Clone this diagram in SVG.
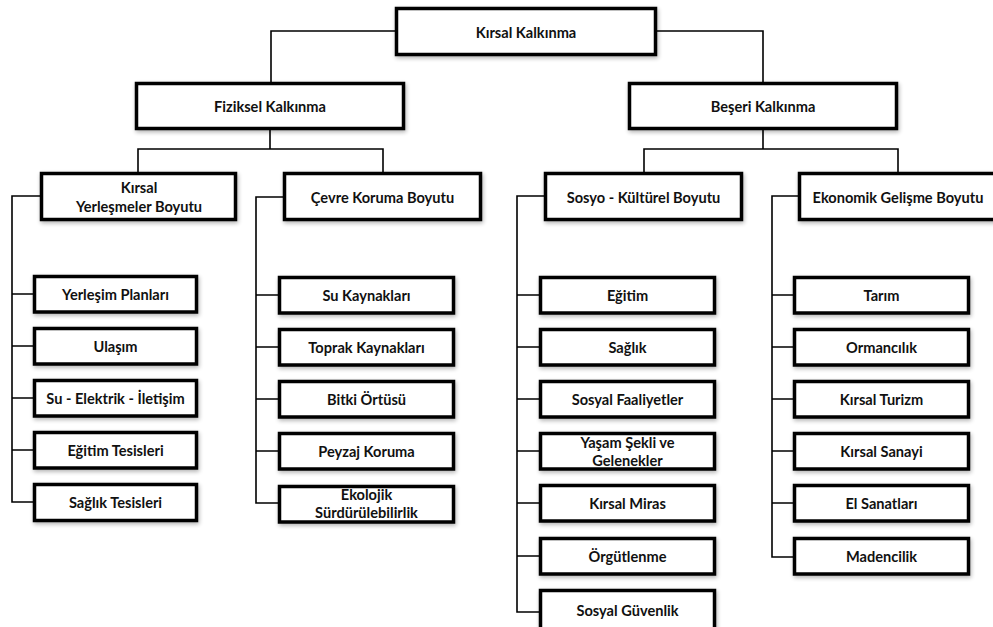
<svg xmlns="http://www.w3.org/2000/svg" width="993" height="627" viewBox="0 0 993 627">
  <style>
    .box { fill: #ffffff; stroke: #000000; stroke-width: 3.5; filter: url(#shade); }
    .lbl { font-family: Lato, "Open Sans", "Liberation Sans", sans-serif; font-weight: 700; font-size: 14.6px; fill: #111111; text-anchor: middle; dominant-baseline: central; }
    .wire { fill: none; stroke: #000000; stroke-width: 1.6; }
  </style>
  <defs>
    <filter id="shade" x="-10%" y="-30%" width="120%" height="160%">
      <feGaussianBlur in="SourceAlpha" stdDeviation="2.2"/>
      <feOffset dx="1" dy="1.5" result="b"/>
      <feComponentTransfer><feFuncA type="linear" slope="0.3"/></feComponentTransfer>
      <feMerge><feMergeNode/><feMergeNode in="SourceGraphic"/></feMerge>
    </filter>
  </defs>
  <rect width="993" height="627" fill="#ffffff"/>

  <!-- connectors -->
  <g id="connectors" class="wire">
    <path d="M395,31 H271 V82"/>
    <path d="M657,31 H763 V82"/>
    <path d="M270,130 V149 M138,172 V149 H383 V172"/>
    <path d="M763,130 V149 M644,172 V149 H898 V172"/>
    <path d="M40,196 H12 V502 H33 M12,294 H33 M12,346 H33 M12,398 H33 M12,450 H33"/>
    <path d="M283,197 H256 V503 H278 M256,295 H278 M256,347 H278 M256,399 H278 M256,451 H278"/>
    <path d="M544,196 H517 V612 H539 M517,295 H539 M517,347 H539 M517,399 H539 M517,451 H539 M517,503 H539 M517,556 H539"/>
    <path d="M798,196 H772 V557 H793 M772,295 H793 M772,347 H793 M772,399 H793 M772,451 H793 M772,503 H793"/>
  </g>

  <!-- level 0 -->
  <g id="kirsal-kalkinma"><rect class="box" x="396.5" y="8.5" width="259" height="46"/><text class="lbl" x="526" y="32">Kırsal Kalkınma</text></g>

  <!-- level 1 -->
  <g id="fiziksel"><rect class="box" x="136.5" y="83.5" width="267" height="45"/><text class="lbl" x="270" y="106">Fiziksel Kalkınma</text></g>
  <g id="beseri"><rect class="box" x="629.5" y="83.5" width="267" height="45"/><text class="lbl" x="763" y="106">Beşeri Kalkınma</text></g>

  <!-- level 2 -->
  <g id="yerlesmeler"><rect class="box" x="41.5" y="173.5" width="194" height="46"/><text class="lbl" x="139" y="187">Kırsal</text><text class="lbl" x="139" y="206">Yerleşmeler Boyutu</text></g>
  <g id="cevre"><rect class="box" x="284.5" y="173.5" width="196" height="46"/><text class="lbl" x="382.5" y="197">Çevre Koruma Boyutu</text></g>
  <g id="sosyo"><rect class="box" x="545.5" y="173.5" width="196" height="46"/><text class="lbl" x="643.5" y="197">Sosyo - Kültürel Boyutu</text></g>
  <g id="ekonomik"><rect class="box" x="799.5" y="173.5" width="197" height="46"/><text class="lbl" x="898" y="197">Ekonomik Gelişme Boyutu</text></g>

  <!-- yerlesmeler leaves -->
  <g id="yerlesim-planlari"><rect class="box" x="34.5" y="276.5" width="162" height="35.5"/><text class="lbl" x="115.5" y="294">Yerleşim Planları</text></g>
  <g id="ulasim"><rect class="box" x="34.5" y="328.5" width="162" height="35.5"/><text class="lbl" x="115.5" y="346">Ulaşım</text></g>
  <g id="su-elektrik"><rect class="box" x="34.5" y="380.5" width="162" height="35.5"/><text class="lbl" x="115.5" y="398">Su - Elektrik - İletişim</text></g>
  <g id="egitim-tesisleri"><rect class="box" x="34.5" y="432.5" width="162" height="35.5"/><text class="lbl" x="115.5" y="450">Eğitim Tesisleri</text></g>
  <g id="saglik-tesisleri"><rect class="box" x="34.5" y="484.5" width="162" height="36"/><text class="lbl" x="115.5" y="502">Sağlık Tesisleri</text></g>

  <!-- cevre leaves -->
  <g id="su-kaynaklari"><rect class="box" x="279.5" y="277.5" width="174" height="35.5"/><text class="lbl" x="366.5" y="295">Su Kaynakları</text></g>
  <g id="toprak-kaynaklari"><rect class="box" x="279.5" y="329.5" width="174" height="35.5"/><text class="lbl" x="366.5" y="347">Toprak Kaynakları</text></g>
  <g id="bitki-ortusu"><rect class="box" x="279.5" y="381.5" width="174" height="35.5"/><text class="lbl" x="366.5" y="399">Bitki Örtüsü</text></g>
  <g id="peyzaj"><rect class="box" x="279.5" y="433.5" width="174" height="35.5"/><text class="lbl" x="366.5" y="451">Peyzaj Koruma</text></g>
  <g id="ekolojik"><rect class="box" x="279.5" y="486.5" width="174" height="35.5"/><text class="lbl" x="366.5" y="494">Ekolojik</text><text class="lbl" x="366.5" y="512">Sürdürülebilirlik</text></g>

  <!-- sosyo leaves -->
  <g id="egitim"><rect class="box" x="540.5" y="277.5" width="174" height="35.5"/><text class="lbl" x="627.5" y="295">Eğitim</text></g>
  <g id="saglik"><rect class="box" x="540.5" y="329.5" width="174" height="35.5"/><text class="lbl" x="627.5" y="347">Sağlık</text></g>
  <g id="sosyal-faaliyetler"><rect class="box" x="540.5" y="381.5" width="174" height="35.5"/><text class="lbl" x="627.5" y="399">Sosyal Faaliyetler</text></g>
  <g id="yasam-sekli"><rect class="box" x="540.5" y="433.5" width="174" height="35.5"/><text class="lbl" x="627.5" y="442">Yaşam Şekli ve</text><text class="lbl" x="627.5" y="460">Gelenekler</text></g>
  <g id="kirsal-miras"><rect class="box" x="540.5" y="485.5" width="174" height="35.5"/><text class="lbl" x="627.5" y="503">Kırsal Miras</text></g>
  <g id="orgutlenme"><rect class="box" x="540.5" y="538.5" width="174" height="35.5"/><text class="lbl" x="627.5" y="556">Örgütlenme</text></g>
  <g id="sosyal-guvenlik"><rect class="box" x="540.5" y="590.5" width="174" height="40"/><text class="lbl" x="627.5" y="610">Sosyal Güvenlik</text></g>

  <!-- ekonomik leaves -->
  <g id="tarim"><rect class="box" x="794.5" y="277.5" width="174" height="35.5"/><text class="lbl" x="881.5" y="295">Tarım</text></g>
  <g id="ormancilik"><rect class="box" x="794.5" y="329.5" width="174" height="35.5"/><text class="lbl" x="881.5" y="347">Ormancılık</text></g>
  <g id="kirsal-turizm"><rect class="box" x="794.5" y="381.5" width="174" height="35.5"/><text class="lbl" x="881.5" y="399">Kırsal Turizm</text></g>
  <g id="kirsal-sanayi"><rect class="box" x="794.5" y="433.5" width="174" height="35.5"/><text class="lbl" x="881.5" y="451">Kırsal Sanayi</text></g>
  <g id="el-sanatlari"><rect class="box" x="794.5" y="485.5" width="174" height="35.5"/><text class="lbl" x="881.5" y="503">El Sanatları</text></g>
  <g id="madencilik"><rect class="box" x="794.5" y="538.5" width="174" height="35.5"/><text class="lbl" x="881.5" y="556">Madencilik</text></g>
</svg>
